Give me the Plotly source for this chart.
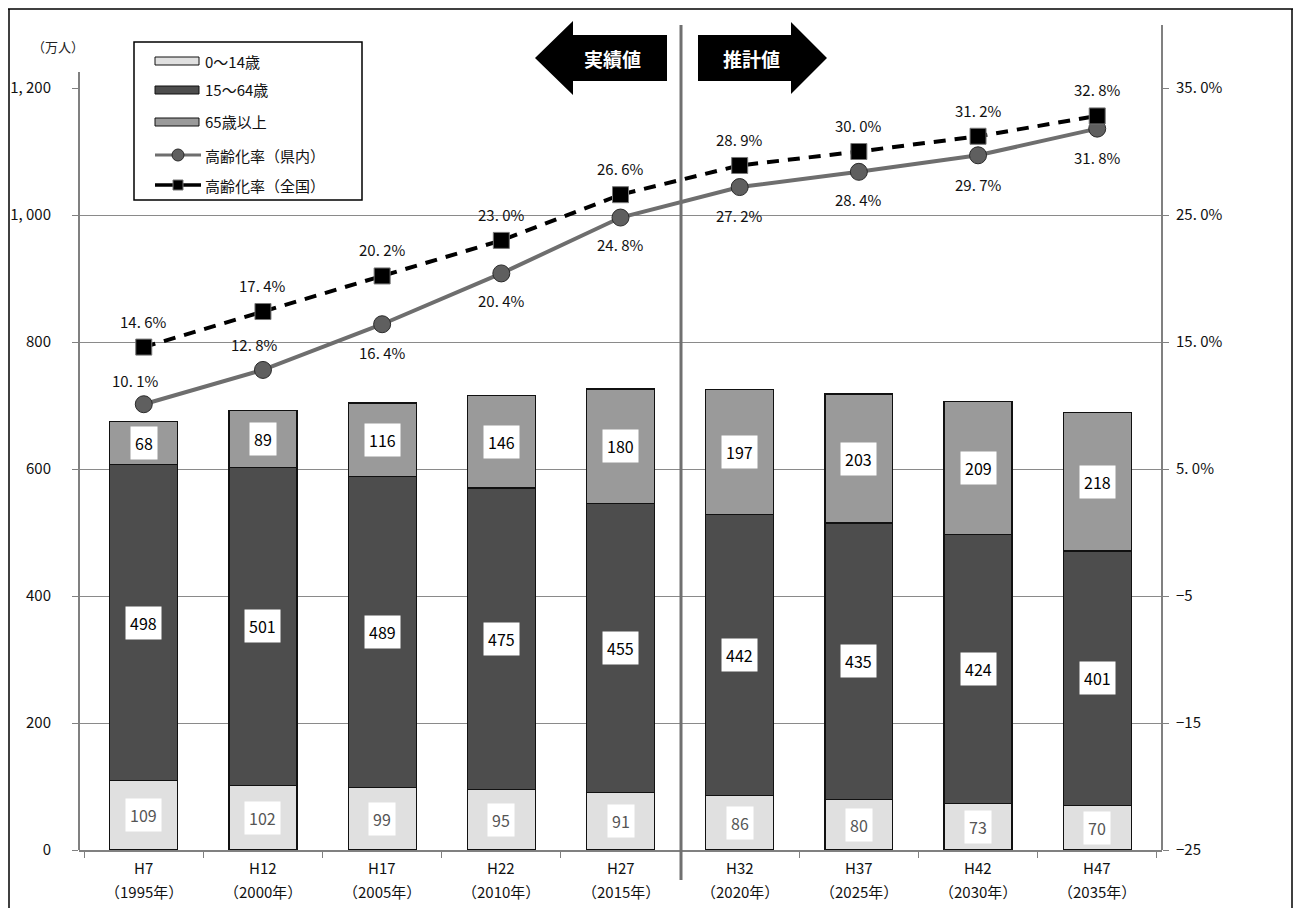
import plotly.graph_objects as go

# ---- data ----
categories = ["H7", "H12", "H17", "H22", "H27", "H32", "H37", "H42", "H47"]
years = ["（1995年）", "（2000年）", "（2005年）", "（2010年）", "（2015年）",
         "（2020年）", "（2025年）", "（2030年）", "（2035年）"]
age_0_14 = [109, 102, 99, 95, 91, 86, 80, 73, 70]
age_15_64 = [498, 501, 489, 475, 455, 442, 435, 424, 401]
age_65_plus = [68, 89, 116, 146, 180, 197, 203, 209, 218]
rate_pref = [10.1, 12.8, 16.4, 20.4, 24.8, 27.2, 28.4, 29.7, 31.8]
rate_nation = [14.6, 17.4, 20.2, 23.0, 26.6, 28.9, 30.0, 31.2, 32.8]
left_ticks = [0, 200, 400, 600, 800, 1000, 1200]
left_ticktext = ["0", "200", "400", "600", "800", "1, 000", "1, 200"]
right_ticks = [-25, -15, -5, 5, 15, 25, 35]
right_ticktext = ["−25", "−15", "−5", "5. 0%", "15. 0%", "25. 0%", "35. 0%"]

# label offsets (style): pref labels above for first two, below for the rest
pref_shift = [24, 25, -28, -27, -27, -28, -28, -29, -29]
nation_shift = [26] * 9

FONT = "Noto Sans CJK JP"
OFF = 8                      # page body margin
W, H = 1285, 900             # figure size
PL, PR, PT, PB = 79, 1162, 88, 850   # plot area in page pixels


def px(x):
    return (x - PL) / (PR - PL)


def py(y):
    return (PB - y) / (PB - PT)


C_YOUNG = "#e0e0e0"
C_WORK = "#4d4d4d"
C_OLD = "#9a9a9a"
C_PREF = "#6e6e6e"
C_AXIS = "#808080"

fig = go.Figure()
bw = 0.57
fig.add_bar(x=categories, y=age_0_14, name="0〜14歳", marker=dict(color=C_YOUNG, line=dict(color="#111", width=1.2)), width=bw)
fig.add_bar(x=categories, y=age_15_64, name="15〜64歳", marker=dict(color=C_WORK, line=dict(color="#111", width=1.2)), width=bw)
fig.add_bar(x=categories, y=age_65_plus, name="65歳以上", marker=dict(color=C_OLD, line=dict(color="#111", width=1.2)), width=bw)

fig.add_scatter(x=categories, y=rate_pref, yaxis="y2", name="高齢化率（県内）", mode="lines+markers",
                line=dict(color=C_PREF, width=4),
                marker=dict(symbol="circle", size=17, color="#5f5f5f", line=dict(color="#2a2a2a", width=1)))
fig.add_scatter(x=categories, y=rate_nation, yaxis="y2", name="高齢化率（全国）", mode="lines+markers",
                line=dict(color="#000", width=4, dash="12px,9px"),
                marker=dict(symbol="square", size=16, color="#000", line=dict(color="#777", width=1)))

annotations = []
# segment labels
for i, c in enumerate(categories):
    segs = [(age_0_14[i], 0, "#555555"),
            (age_15_64[i], age_0_14[i], "#000000"),
            (age_65_plus[i], age_0_14[i] + age_15_64[i], "#000000")]
    for v, base, col in segs:
        annotations.append(dict(x=c, y=base + v / 2, xref="x", yref="y", text=str(v), showarrow=False,
                                yanchor="middle",
                                font=dict(family=FONT, size=16, color=col), bgcolor="white", borderpad=4))


def pct(v):
    return f"{v:.1f}".replace(".", ". ") + "%"


for i, c in enumerate(categories):
    annotations.append(dict(x=c, y=rate_pref[i], xref="x", yref="y2", text=pct(rate_pref[i]), showarrow=False,
                            yanchor="middle", yshift=pref_shift[i], xshift=-8 if i < 2 else 0,
                            font=dict(family=FONT, size=15, color="#111")))
    annotations.append(dict(x=c, y=rate_nation[i], xref="x", yref="y2", text=pct(rate_nation[i]), showarrow=False,
                            yanchor="middle", yshift=nation_shift[i], font=dict(family=FONT, size=15, color="#111")))
    # two-line category labels
    annotations.append(dict(x=c, y=py(867), xref="x", yref="paper", text=c, showarrow=False,
                            yanchor="middle", font=dict(family=FONT, size=15, color="#111")))
    annotations.append(dict(x=c, y=py(892), xref="x", yref="paper", text=years[i], showarrow=False,
                            yanchor="middle", font=dict(family=FONT, size=15, color="#111")))

# unit label
annotations.append(dict(x=px(58), y=py(46), xref="paper", yref="paper", text="（万人）", showarrow=False,
                        xanchor="center", yanchor="middle", font=dict(family=FONT, size=13, color="#222")))
# arrow labels
annotations.append(dict(x=px(612), y=py(58), xref="paper", yref="paper", text="<b>実績値</b>", showarrow=False,
                        xanchor="center", yanchor="middle", font=dict(family=FONT, size=19, color="white")))
annotations.append(dict(x=px(751), y=py(58), xref="paper", yref="paper", text="<b>推計値</b>", showarrow=False,
                        xanchor="center", yanchor="middle", font=dict(family=FONT, size=19, color="white")))

shapes = []
# outer frame (figure edge, open at bottom)
for (x0, y0, x1, y1) in [(8, 9, 1293, 9), (9, 9, 9, 908), (1292, 9, 1292, 908)]:
    shapes.append(dict(type="line", xref="paper", yref="paper", x0=px(x0), y0=py(y0), x1=px(x1), y1=py(y1),
                       line=dict(color="#000", width=1.5)))
# extended axis lines
shapes.append(dict(type="line", xref="paper", yref="paper", x0=0, y0=0, x1=0, y1=py(72),
                   line=dict(color=C_AXIS, width=2)))
shapes.append(dict(type="line", xref="paper", yref="paper", x0=1, y0=0, x1=1, y1=py(25),
                   line=dict(color=C_AXIS, width=2)))
# divider between actual and projected
shapes.append(dict(type="line", xref="paper", yref="paper", x0=px(681), y0=py(25), x1=px(681), y1=py(880),
                   line=dict(color="#707070", width=3)))


def path(points):
    return "M " + " L ".join(f"{px(x):.5f},{py(y):.5f}" for x, y in points) + " Z"


shapes.append(dict(type="path", xref="paper", yref="paper", fillcolor="#000", line=dict(width=0),
                   path=path([(535, 58), (573, 21), (573, 35), (667, 35), (667, 81), (573, 81), (573, 95)])))
shapes.append(dict(type="path", xref="paper", yref="paper", fillcolor="#000", line=dict(width=0),
                   path=path([(698, 35), (791, 35), (791, 22), (827, 58), (791, 94), (791, 81), (698, 81)])))

# custom legend box
shapes.append(dict(type="rect", xref="paper", yref="paper", x0=px(134), y0=py(42), x1=px(362), y1=py(200),
                   fillcolor="white", line=dict(color="#000", width=1.5)))
leg_y = [61, 90, 122, 155, 185]
leg_names = ["0〜14歳", "15〜64歳", "65歳以上", "高齢化率（県内）", "高齢化率（全国）"]
for yy, col in zip(leg_y[:3], [C_YOUNG, C_WORK, C_OLD]):
    shapes.append(dict(type="rect", xref="paper", yref="paper", x0=px(155), y0=py(yy - 4), x1=px(199), y1=py(yy + 4),
                       fillcolor=col, line=dict(color="#111", width=1)))
shapes.append(dict(type="line", xref="paper", yref="paper", x0=px(155), y0=py(155), x1=px(201), y1=py(155),
                   line=dict(color=C_PREF, width=3)))
shapes.append(dict(type="circle", xref="paper", yref="paper", x0=px(172), y0=py(149), x1=px(184), y1=py(161),
                   fillcolor="#5f5f5f", line=dict(color="#2a2a2a", width=1)))
shapes.append(dict(type="line", xref="paper", yref="paper", x0=px(155), y0=py(185), x1=px(201), y1=py(185),
                   line=dict(color="#000", width=3.5)))
shapes.append(dict(type="rect", xref="paper", yref="paper", x0=px(173), y0=py(180), x1=px(183), y1=py(190),
                   fillcolor="#000", line=dict(color="#777", width=1)))
for yy, nm in zip(leg_y, leg_names):
    annotations.append(dict(x=px(203), y=py(yy), xref="paper", yref="paper", text=nm, showarrow=False,
                            xanchor="left", yanchor="middle", font=dict(family=FONT, size=15, color="#111")))

fig.update_layout(
    width=W, height=H,
    margin=dict(l=PL - OFF, r=W - (PR - OFF), t=PT - OFF, b=H - (PB - OFF), autoexpand=False),
    barmode="stack", bargap=0.43,
    plot_bgcolor="white", paper_bgcolor="white",
    showlegend=False,
    font=dict(family=FONT, size=15, color="#111"),
    xaxis=dict(type="category", categoryorder="array", categoryarray=categories,
               tickvals=categories, showticklabels=False, automargin=False,
               tickson="boundaries", ticks="outside", ticklen=6, tickcolor=C_AXIS, tickwidth=1,
               showline=True, linecolor=C_AXIS, linewidth=2, showgrid=False),
    yaxis=dict(range=[0, 1200], tickvals=left_ticks, ticktext=left_ticktext, automargin=False,
               ticks="outside", ticklen=6, tickcolor=C_AXIS, ticklabelstandoff=18,
               showgrid=True, gridcolor="#8a8a8a", gridwidth=1, zeroline=False, showline=False,
               tickfont=dict(family=FONT, size=15, color="#111")),
    yaxis2=dict(range=[-25, 35], overlaying="y", side="right", tickvals=right_ticks, ticktext=right_ticktext,
                automargin=False,
                ticks="outside", ticklen=6, tickcolor=C_AXIS, ticklabelstandoff=4,
                showgrid=False, zeroline=False, showline=False,
                tickfont=dict(family=FONT, size=15, color="#111")),
    annotations=annotations,
    shapes=shapes,
)

fig.write_html("out.html")
